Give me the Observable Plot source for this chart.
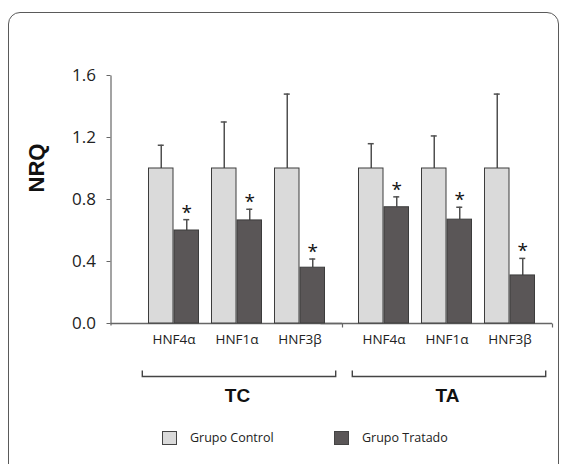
<!DOCTYPE html>
<html><head><meta charset="utf-8">
<script src="https://cdn.jsdelivr.net/npm/d3@7"></script>
<script src="https://cdn.jsdelivr.net/npm/@observablehq/plot@0.6"></script>
<style>
body{margin:0;background:#fff;font-family:"Open Sans",sans-serif;}
#wrap{position:relative;width:566px;height:464px;overflow:hidden;background:#fff;}
#border{position:absolute;left:8px;top:12px;width:551px;height:480px;border:1.5px solid #5a5a5a;border-radius:12px;box-sizing:border-box;}
#chart{position:absolute;left:0;top:0;}
#legend{position:absolute;top:430px;left:0;width:566px;height:16px;font-size:12.5px;color:#222;}
.item{position:absolute;top:0;height:15px;display:flex;align-items:center;white-space:nowrap;}
.sw{width:15px;height:14px;border:1px solid #444;box-sizing:border-box;margin-right:13px;}
</style></head><body>
<div id="wrap"><div id="border"></div><div id="chart"></div><div id="legend"></div></div>
<script>
// ---- data ----
const groupNames = ["TC", "TA"];
const groups = ["TC", "TC", "TC", "TA", "TA", "TA"];
const genes = ["HNF4α", "HNF1α", "HNF3β", "HNF4α", "HNF1α", "HNF3β"];
const controlNRQ = [1, 1, 1, 1, 1, 1];
const controlErr = [0.15, 0.30, 0.48, 0.16, 0.21, 0.48];
const treatedNRQ = [0.60, 0.665, 0.36, 0.75, 0.67, 0.31];
const treatedErr = [0.07, 0.072, 0.056, 0.067, 0.08, 0.11];
const yTicks = [0, 0.4, 0.8, 1.2, 1.6];
const seriesNames = ["Grupo Control", "Grupo Tratado"];
const seriesColors = ["#dadada", "#5a5657"];

// ---- tables ----
const rows = genes.map((g, i) => ({
  group: groups[i], gene: g,
  c: controlNRQ[i], cHi: controlNRQ[i] + controlErr[i],
  t: treatedNRQ[i], tHi: treatedNRQ[i] + treatedErr[i]
}));
const facetRows = groupNames.map(g => ({group: g}));
const geneDomain = Array.from(new Set(genes));

// ---- layout ----
const W = 566, H = 410, mT = 75, mB = 87, mL = 131.5, mR = 14;
const plotH = H - mT - mB;
const axisShift = -21.5;
const halfBar = 25.5;
const ink = "#3c3c3c", errInk = "#505050", axisInk = "#666";

const shape = (pts) => ({draw(ctx) { ctx.moveTo(pts[0][0], pts[0][1]); for (const p of pts.slice(1)) ctx.lineTo(p[0], p[1]); }});
const tickDown = shape([[0, 0], [0, 4]]);
const yLine = shape([[0, 2], [0, -plotH]]);
const bw = 96.7;
const bracket = shape([[-bw, -6], [-bw, 0], [bw, 0], [bw, -6]]);

const chart = Plot.plot({
  width: W, height: H, marginTop: mT, marginBottom: mB, marginLeft: mL, marginRight: mR,
  style: {fontFamily: "'Open Sans', sans-serif", color: "#222", background: "transparent", overflow: "visible"},
  fx: {domain: groupNames, padding: 0, axis: null, label: null},
  x: {domain: geneDomain, paddingInner: 0.2, paddingOuter: 0.25, label: null},
  y: {domain: [0, 1.6], label: null},
  marks: [
    Plot.axisY(yTicks, {tickSize: 4, tickPadding: 11, dx: axisShift, tickFormat: d3.format(".1f"), fontSize: 17, label: null, stroke: axisInk, fill: "#222"}),
    Plot.axisX({tickSize: 0, tickPadding: 11, fontSize: 13.5, label: null, fill: "#222"}),
    Plot.dot(facetRows.slice(0, 1), {fx: "group", x: null, y: null, frameAnchor: "bottom-left", dx: axisShift, symbol: yLine, fill: "none", stroke: axisInk, strokeWidth: 1.2}),
    Plot.ruleY(facetRows, {fx: "group", y: 0, insetLeft: axisShift, stroke: axisInk, strokeWidth: 1.3}),
    Plot.dot(facetRows, {fx: "group", x: null, y: null, frameAnchor: "bottom-right", symbol: tickDown, fill: "none", stroke: axisInk, strokeWidth: 1.2}),
    Plot.dot(facetRows, {fx: "group", x: null, y: null, frameAnchor: "bottom", dx: 1.5, dy: 53, symbol: bracket, fill: "none", stroke: "#444", strokeWidth: 1.4}),
    Plot.text(facetRows, {fx: "group", x: null, y: null, text: "group", frameAnchor: "bottom", dy: 78, fontSize: 19, fontWeight: "bold", fontFamily: "'Liberation Sans', Arial, sans-serif", fill: "#111"}),
    Plot.text(facetRows.slice(0, 1), {fx: "group", x: null, y: null, text: () => "NRQ", frameAnchor: "left", rotate: -90, dx: -96, dy: -7, fontSize: 22, fontWeight: "bold", fontFamily: "'Liberation Sans', Arial, sans-serif", fill: "#111"}),
    // error bars
    Plot.ruleX(rows, {fx: "group", x: "gene", y1: "c", y2: "cHi", dx: -halfBar / 2, stroke: errInk, strokeWidth: 1.5}),
    Plot.tickY(rows, {fx: "group", x: "gene", y: "cHi", insetLeft: halfBar / 2 - 3.5, insetRight: halfBar * 1.5 - 3.5, stroke: errInk, strokeWidth: 1.5}),
    Plot.ruleX(rows, {fx: "group", x: "gene", y1: "t", y2: "tHi", dx: halfBar / 2, stroke: errInk, strokeWidth: 1.5}),
    Plot.tickY(rows, {fx: "group", x: "gene", y: "tHi", insetLeft: halfBar * 1.5 - 3.5, insetRight: halfBar / 2 - 3.5, stroke: errInk, strokeWidth: 1.5}),
    // bars
    Plot.barY(rows, {fx: "group", x: "gene", y: "c", insetRight: halfBar, fill: seriesColors[0], stroke: ink, strokeWidth: 1}),
    Plot.barY(rows, {fx: "group", x: "gene", y: "t", insetLeft: halfBar, fill: seriesColors[1], stroke: ink, strokeWidth: 1}),
    // significance
    Plot.text(rows, {fx: "group", x: "gene", y: "tHi", text: () => "*", dx: halfBar / 2, dy: -7, fontSize: 19, fill: "#111"})
  ]
});
document.getElementById("chart").appendChild(chart);

// legend
const legend = document.getElementById("legend");
const legendLeft = [162, 334];
seriesNames.forEach((name, i) => {
  const item = document.createElement("div");
  item.className = "item";
  item.style.left = legendLeft[i] + "px";
  const sw = document.createElement("span");
  sw.className = "sw";
  sw.style.background = seriesColors[i];
  const lab = document.createElement("span");
  lab.textContent = name;
  item.appendChild(sw); item.appendChild(lab);
  legend.appendChild(item);
});
</script>
</body></html>
